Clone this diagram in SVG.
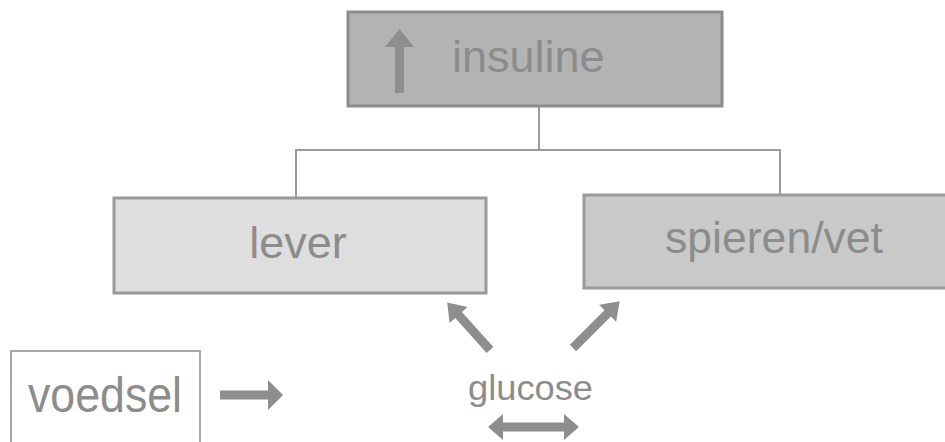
<svg xmlns="http://www.w3.org/2000/svg" width="945" height="442" viewBox="0 0 945 442">
<style>
.lbl{font-family:"Liberation Sans",Arial,sans-serif;fill:#8c8c8c;}
.conn{stroke:#9a9a9a;stroke-width:2;fill:none;}
.arr{fill:#8e8e8e;}
</style>
<rect width="945" height="442" fill="#ffffff"/>
<g id="connectors">
<polyline class="conn" points="539,106 539,150 296,150 296,198"/>
<polyline class="conn" points="539,150 780,150 780,195"/>
</g>
<g id="insuline">
<rect x="348" y="12" width="374" height="94" fill="#b3b3b3" stroke="#8c8c8c" stroke-width="3"/>
<polygon class="arr" points="395,93 404,93 404,47 414,47 399.5,29 385,47 395,47"/>
<text class="lbl" x="452" y="72" font-size="45">insuline</text>
</g>
<g id="lever">
<rect x="114" y="198" width="372" height="95" fill="#dedede" stroke="#9a9a9a" stroke-width="3"/>
<text class="lbl" x="298" y="258" font-size="45" text-anchor="middle">lever</text>
</g>
<g id="spieren">
<rect x="584" y="195" width="370" height="93" fill="#c9c9c9" stroke="#9a9a9a" stroke-width="3"/>
<text class="lbl" x="665" y="253" font-size="45" textLength="218" lengthAdjust="spacingAndGlyphs">spieren/vet</text>
</g>
<g id="voedsel">
<rect x="11" y="351" width="189" height="100" fill="#ffffff" stroke="#a8a8a8" stroke-width="2"/>
<text class="lbl" x="28" y="412" font-size="50" textLength="154" lengthAdjust="spacingAndGlyphs">voedsel</text>
<polygon class="arr" points="220,390.5 268,390.5 268,380 283,395 268,410 268,399.5 220,399.5"/>
</g>
<g id="glucose">
<text class="lbl" x="468" y="400" font-size="35" textLength="125" lengthAdjust="spacingAndGlyphs">glucose</text>
<polygon class="arr" points="488,427 503,414 503,422.5 564,422.5 564,414 579,427 564,440 564,431.5 503,431.5 503,440"/>
<g transform="translate(490,350) rotate(-132)">
<polygon class="arr" points="0,-4.5 47,-4.5 47,-12 64,0 47,12 47,4.5 0,4.5"/>
</g>
<g transform="translate(573,348) rotate(-45)">
<polygon class="arr" points="0,-4.5 49,-4.5 49,-12 66,0 49,12 49,4.5 0,4.5"/>
</g>
</g>
</svg>
